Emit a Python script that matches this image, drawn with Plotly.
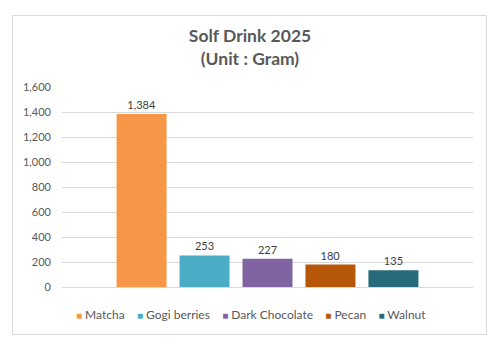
import plotly.graph_objects as go

# Solf Drink 2025 consumption by ingredient (grams)
ingredients = ["Matcha", "Gogi berries", "Dark Chocolate", "Pecan", "Walnut"]
grams = [1384, 253, 227, 180, 135]
colors = ["#F79646", "#4BACC6", "#8064A2", "#B65708", "#276A7C"]

y_ticks = [0, 200, 400, 600, 800, 1000, 1200, 1400, 1600]

W, H = 500, 350
M_L, M_R, M_T, M_B = 62, 27, 87, 63
PLOT_W = W - M_L - M_R
PLOT_H = H - M_T - M_B

FONT = "Lato, 'Open Sans', sans-serif"
GREY = "#595959"


def px_x(x):
    return (x - M_L) / PLOT_W


def px_y(y):
    return (H - M_B - y) / PLOT_H


fig = go.Figure()
for name, val, col in zip(ingredients, grams, colors):
    fig.add_trace(go.Bar(
        x=[""], y=[val], name=name,
        marker=dict(color=col, line=dict(width=0)),
        texttemplate="%{y:,}", textposition="outside",
        textfont=dict(size=11, color="#404040", family=FONT),
        cliponaxis=False, showlegend=False, hoverinfo="skip",
    ))

# legend row: coloured square + name for each series
parts = []
for name, col in zip(ingredients, colors):
    parts.append(f"<span style='color:{col};font-size:10px'>■</span>&nbsp;{name}")
legend_text = "&nbsp;&nbsp;&nbsp;&nbsp;".join(parts)
fig.add_annotation(
    text=legend_text, xref="paper", yref="paper",
    x=px_x(251), y=px_y(314), xanchor="center", yanchor="middle",
    showarrow=False, font=dict(size=12, color=GREY, family=FONT),
)

# chart frame
fig.add_shape(
    type="rect", xref="paper", yref="paper",
    x0=px_x(12.5), x1=px_x(486.5), y0=px_y(334.5), y1=px_y(15.5),
    line=dict(color="#D9D9D9", width=1), fillcolor="rgba(0,0,0,0)", layer="below",
)

fig.update_layout(
    width=W, height=H,
    margin=dict(l=M_L, r=M_R, t=M_T, b=M_B),
    paper_bgcolor="white", plot_bgcolor="white",
    barmode="group", bargap=0.234, bargroupgap=0.206,
    title=dict(
        text="<b>Solf Drink 2025</b><br><b>(Unit : Gram)</b>",
        x=0.5, xanchor="center", xref="container",
        y=1 - 42 / H, yanchor="middle", yref="container",
        font=dict(size=17.5, color=GREY, family=FONT),
    ),
    xaxis=dict(showticklabels=False, showgrid=False, zeroline=False,
               showline=False, ticks=""),
    yaxis=dict(
        range=[0, 1600], tickvals=y_ticks, tickformat=",",
        showgrid=True, gridcolor="#D9D9D9", gridwidth=1,
        zeroline=True, zerolinecolor="#D9D9D9", zerolinewidth=1,
        showline=False, ticks="", ticklen=0, ticklabelstandoff=10,
        tickfont=dict(size=11, color=GREY, family=FONT),
    ),
    showlegend=False,
)

fig.write_html("out.html")
